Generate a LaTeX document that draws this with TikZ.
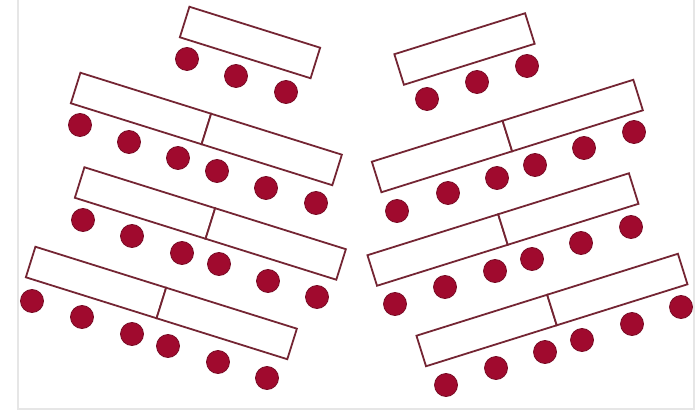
\documentclass[tikz,border=0pt]{standalone}
\definecolor{dotred}{HTML}{A00A2E}
\definecolor{dotedge}{HTML}{780A24}
\definecolor{boxline}{HTML}{742533}
\definecolor{framegray}{HTML}{E6E6E6}
\tikzset{
  lbox/.style={draw=boxline, line width=1.8pt, fill=white, minimum width=137pt, minimum height=32pt, inner sep=0pt, outer sep=0pt, rotate=-17.4},
  rbox/.style={draw=boxline, line width=1.8pt, fill=white, minimum width=137pt, minimum height=32pt, inner sep=0pt, outer sep=0pt, rotate=17.4},
  dot/.style={circle, fill=dotred, draw=dotedge, line width=0.8pt, minimum size=23pt, inner sep=0pt}
}
\begin{document}
\begin{tikzpicture}[x=1pt,y=-1pt]
\useasboundingbox (0,0) rectangle (695,411);
\fill[white] (0,0) rectangle (695,411);
\draw[framegray, line width=1.2pt] (18,0) -- (18,409) -- (694,409) -- (694,0);
% ---------- left stack ----------
\node[lbox] (L1) at (250,42.5) {};
\node[dot] (l1a) at (187,59) {};
\node[dot] (l1b) at (236,76) {};
\node[dot] (l1c) at (286,92) {};

\node[lbox] (L2a) at (141,108.5) {};
\node[lbox, anchor=west] (L2b) at (L2a.east) {};
\node[dot] (l2a) at (80,125) {};
\node[dot] (l2b) at (129,142) {};
\node[dot] (l2c) at (178,158) {};
\node[dot] (l2d) at (217,171) {};
\node[dot] (l2e) at (266,188) {};
\node[dot] (l2f) at (316,203) {};

\node[lbox] (L3a) at (145,203) {};
\node[lbox, anchor=west] (L3b) at (L3a.east) {};
\node[dot] (l3a) at (83,220) {};
\node[dot] (l3b) at (132,236) {};
\node[dot] (l3c) at (182,253) {};
\node[dot] (l3d) at (219,264) {};
\node[dot] (l3e) at (268,281) {};
\node[dot] (l3f) at (317,297) {};

\node[lbox] (L4a) at (96,282.5) {};
\node[lbox, anchor=west] (L4b) at (L4a.east) {};
\node[dot] (l4a) at (32,301) {};
\node[dot] (l4b) at (82,317) {};
\node[dot] (l4c) at (132,334) {};
\node[dot] (l4d) at (168,346) {};
\node[dot] (l4e) at (218,362) {};
\node[dot] (l4f) at (267,378) {};
% ---------- right stack ----------
\node[rbox] (R1) at (464.5,49) {};
\node[dot] (r1a) at (427,99) {};
\node[dot] (r1b) at (477,82) {};
\node[dot] (r1c) at (527,66) {};

\node[rbox] (R2a) at (442,156.5) {};
\node[rbox, anchor=west] (R2b) at (R2a.east) {};
\node[dot] (r2a) at (397,211) {};
\node[dot] (r2b) at (448,193) {};
\node[dot] (r2c) at (497,178) {};
\node[dot] (r2d) at (535,165) {};
\node[dot] (r2e) at (584,148) {};
\node[dot] (r2f) at (634,132) {};

\node[rbox] (R3a) at (437.6,250) {};
\node[rbox, anchor=west] (R3b) at (R3a.east) {};
\node[dot] (r3a) at (395,304) {};
\node[dot] (r3b) at (445,287) {};
\node[dot] (r3c) at (495,271) {};
\node[dot] (r3d) at (532,259) {};
\node[dot] (r3e) at (581,243) {};
\node[dot] (r3f) at (631,227) {};

\node[rbox] (R4a) at (486.6,330.5) {};
\node[rbox, anchor=west] (R4b) at (R4a.east) {};
\node[dot] (r4a) at (446,385) {};
\node[dot] (r4b) at (496,368) {};
\node[dot] (r4c) at (545,352) {};
\node[dot] (r4d) at (582,340) {};
\node[dot] (r4e) at (632,324) {};
\node[dot] (r4f) at (681,307) {};
\end{tikzpicture}
\end{document}
